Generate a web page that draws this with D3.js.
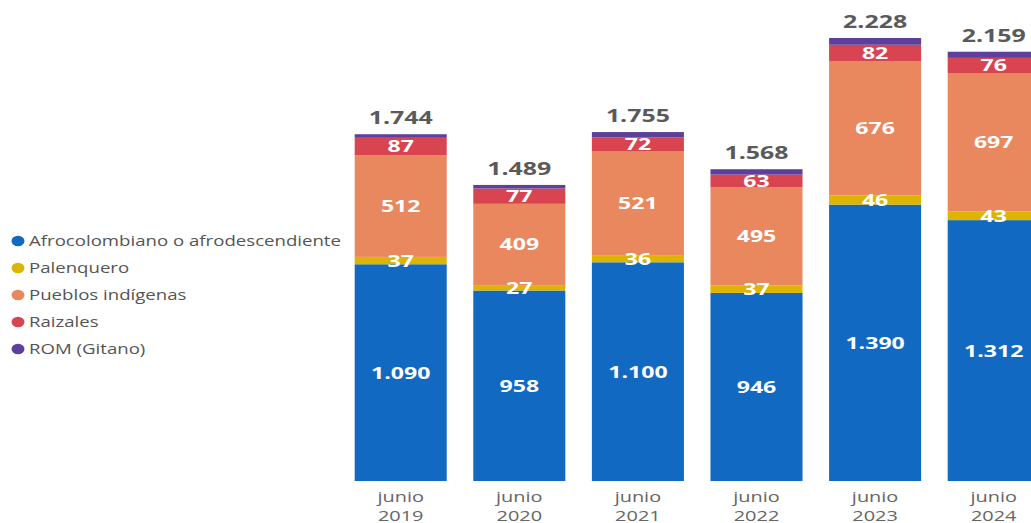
<!DOCTYPE html>
<html>
<head>
<meta charset="utf-8">
<script src="https://cdn.jsdelivr.net/npm/d3@7"></script>
<style>
  html, body { margin: 0; padding: 0; background: #fff; }
  svg { display: block; }
</style>
</head>
<body>
<svg id="chart" width="1031" height="523"></svg>
<script>
// Periods shown on the x axis (two-line labels)
const periods = ["junio 2019", "junio 2020", "junio 2021", "junio 2022", "junio 2023", "junio 2024"];

// Population groups, bottom to top of each stack
const groups = ["Afrocolombiano o afrodescendiente", "Palenquero", "Pueblos indígenas", "Raizales", "ROM (Gitano)"];

// Values per group, one entry per period
const afro       = [1090, 958, 1100, 946, 1390, 1312];
const palenquero = [37, 27, 36, 37, 46, 43];
const indigenas  = [512, 409, 521, 495, 676, 697];
const raizales   = [87, 77, 72, 63, 82, 76];
const rom        = [18, 18, 26, 27, 34, 31];

const colors = ["#1169C2", "#DDB400", "#E9875E", "#D8444F", "#5D3F9C"];
const showLabel = [true, true, true, true, false];

const series = [afro, palenquero, indigenas, raizales, rom];
const rows = periods.map((p, i) => {
  const r = { period: p };
  groups.forEach((g, k) => { r[g] = series[k][i]; });
  return r;
});

const loc = d3.formatLocale({ decimal: ",", thousands: ".", grouping: [3], currency: ["$", ""] });
const fmt = loc.format(",d");

const svg = d3.select("#chart");
const font = "'Open Sans', 'Segoe UI', sans-serif";
// Text is drawn in a wide setting: glyphs are widened horizontally
const wideValue = 1.4;
const wideText = 1.33;

const x = d3.scaleBand()
  .domain(periods)
  .range([341.4, 1053])
  .paddingInner(0.224)
  .paddingOuter(0.112);

const y = d3.scaleLinear()
  .domain([0, 2228])
  .range([481, 38]);

const stack = d3.stack().keys(groups);
const stacked = stack(rows);

// Stacked bars
const layers = svg.append("g").selectAll("g")
  .data(stacked)
  .join("g")
  .attr("fill", (d, i) => colors[i]);

layers.selectAll("rect")
  .data(d => d)
  .join("rect")
  .attr("x", d => x(d.data.period))
  .attr("width", x.bandwidth())
  .attr("y", d => y(d[1]))
  .attr("height", d => y(d[0]) - y(d[1]));

// Segment value labels
const labels = svg.append("g")
  .attr("font-family", font)
  .attr("font-weight", 700)
  .attr("font-size", 16.5)
  .attr("fill", "#fff")
  .attr("text-anchor", "middle");

stacked.forEach((layer, k) => {
  if (!showLabel[k]) return;
  labels.selectAll(null)
    .data(layer)
    .join("text")
    .attr("transform", d => `translate(${x(d.data.period) + x.bandwidth() / 2},${(y(d[0]) + y(d[1])) / 2}) scale(${wideValue},1)`)
    .attr("dy", "0.36em")
    .text(d => fmt(d[1] - d[0]));
});

// Totals above each bar
const totals = rows.map(r => ({ period: r.period, total: d3.sum(groups, g => r[g]) }));
svg.append("g")
  .attr("font-family", font)
  .attr("font-weight", 700)
  .attr("font-size", 17.8)
  .attr("fill", "#5a5a5a")
  .attr("text-anchor", "middle")
  .selectAll("text")
  .data(totals)
  .join("text")
  .attr("transform", d => `translate(${x(d.period) + x.bandwidth() / 2},${y(d.total) - 10}) scale(${wideValue},1)`)
  .text(d => fmt(d.total));

// X axis labels (two lines)
const xAxis = svg.append("g")
  .attr("transform", "translate(0,481)")
  .call(d3.axisBottom(x).tickSize(0).tickPadding(0).tickFormat(""));
xAxis.select(".domain").remove();
xAxis.selectAll(".tick").each(function (p) {
  const parts = p.split(" ");
  const t = d3.select(this).append("text")
    .attr("transform", `scale(${wideText},1)`)
    .attr("font-family", font)
    .attr("font-size", 15)
    .attr("fill", "#666")
    .attr("text-anchor", "middle");
  t.append("tspan").attr("x", 0).attr("y", 21).text(parts[0]);
  t.append("tspan").attr("x", 0).attr("y", 40.5).text(parts[1]);
});

// Legend
const legend = svg.append("g")
  .attr("font-family", font)
  .attr("font-size", 14)
  .attr("fill", "#555");
const li = legend.selectAll("g")
  .data(groups)
  .join("g")
  .attr("transform", (d, i) => `translate(18,${241 + i * 27})`);
li.append("ellipse").attr("rx", 6.5).attr("ry", 5.2).attr("fill", (d, i) => colors[i]);
li.append("text")
  .attr("transform", `translate(11,0) scale(${wideText},1)`)
  .attr("dy", "0.35em")
  .text(d => d);
</script>
</body>
</html>
